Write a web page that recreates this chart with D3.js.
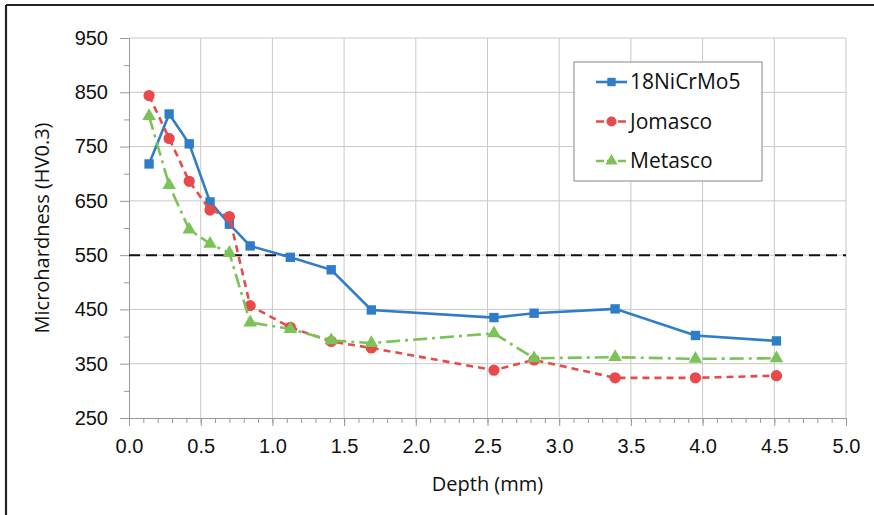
<!DOCTYPE html>
<html>
<head>
<meta charset="utf-8">
<script src="https://cdn.jsdelivr.net/npm/d3@7"></script>
<style>
  html, body { margin: 0; padding: 0; background: #fff; }
  svg { display: block; font-family: "Open Sans", "Noto Sans", sans-serif; }
</style>
</head>
<body>
<div id="chart"></div>
<script>
// depth positions (mm) shared by all three profiles
const depths = [0.14, 0.28, 0.42, 0.565, 0.70, 0.845, 1.125, 1.41, 1.69, 2.545, 2.825, 3.39, 3.95, 4.515];

const niCrMo = [718, 810, 755, 648, 607, 567, 546, 523, 449, 435, 443, 451, 402, 392];
const jomasco = [844, 765, 686, 633, 621, 457, 417, 391, 379, 338, 357, 324, 324, 328];
const metasco = [806, 679, 597, 571, 554, 426, 414, 393, 388, 406, 360, 362, 359, 360];

const seriesNames = ["18NiCrMo5", "Jomasco", "Metasco"];
const threshold = 550;

const xTicks = [0, 0.5, 1, 1.5, 2, 2.5, 3, 3.5, 4, 4.5, 5];
const yTicks = [250, 350, 450, 550, 650, 750, 850, 950];

const W = 874, H = 515;
const margin = { top: 38, right: 28, bottom: 97, left: 129 };
const width = 846 - margin.left;
const height = 418 - margin.top;

const svg = d3.select("#chart").append("svg")
  .attr("width", W)
  .attr("height", H);

// outer frame (only top and left edges show)
svg.append("line").attr("x1", 6).attr("x2", W).attr("y1", 5).attr("y2", 5)
  .attr("stroke", "#222").attr("stroke-width", 2.2);
svg.append("line").attr("x1", 6).attr("x2", 6).attr("y1", 5).attr("y2", H)
  .attr("stroke", "#222").attr("stroke-width", 2.2);

const g = svg.append("g").attr("transform", `translate(${margin.left},${margin.top})`);

const x = d3.scaleLinear().domain([0, 5]).range([0, width]);
const y = d3.scaleLinear().domain([250, 950]).range([height, 0]);

// gridlines
g.append("g").selectAll("line.vg")
  .data(xTicks.slice(1))
  .enter().append("line")
  .attr("x1", d => x(d)).attr("x2", d => x(d))
  .attr("y1", 0).attr("y2", height)
  .attr("stroke", "#c9c9c9").attr("stroke-width", 1);

g.append("g").selectAll("line.hg")
  .data(yTicks.slice(1))
  .enter().append("line")
  .attr("x1", 0).attr("x2", width)
  .attr("y1", d => y(d)).attr("y2", d => y(d))
  .attr("stroke", "#c9c9c9").attr("stroke-width", 1);

// axes
const tickColor = "#999";
const xMinor = d3.range(0, 5.001, 0.1);
g.append("g")
  .attr("transform", `translate(0,${height})`)
  .call(d3.axisBottom(x).tickValues(xMinor).tickSize(5).tickFormat(""))
  .call(a => a.select(".domain").remove())
  .call(a => a.selectAll("line").attr("stroke", tickColor));

const xAxis = g.append("g")
  .attr("transform", `translate(0,${height})`)
  .call(d3.axisBottom(x).tickValues(xTicks).tickSize(8).tickPadding(13).tickFormat(d3.format(".1f")));
xAxis.select(".domain").attr("stroke", tickColor);
xAxis.selectAll("line").attr("stroke", tickColor);
xAxis.selectAll("text").style("font-size", "20px").attr("fill", "#111");

const yMinor = d3.range(300, 951, 100);
g.append("g")
  .call(d3.axisLeft(y).tickValues(yMinor).tickSize(5).tickFormat(""))
  .call(a => a.select(".domain").remove())
  .call(a => a.selectAll("line").attr("stroke", tickColor));

const yAxis = g.append("g")
  .call(d3.axisLeft(y).tickValues(yTicks).tickSize(9).tickPadding(12));
yAxis.select(".domain").attr("stroke", tickColor);
yAxis.selectAll("line").attr("stroke", tickColor);
yAxis.selectAll("text").style("font-size", "20px").attr("fill", "#111");

// axis titles
svg.append("text")
  .attr("transform", `translate(42,${margin.top + height / 2}) rotate(-90)`)
  .attr("text-anchor", "middle")
  .attr("dy", "0.35em")
  .style("font-size", "20px")
  .attr("fill", "#111")
  .text("Microhardness (HV0.3)");

svg.append("text")
  .attr("x", margin.left + width / 2)
  .attr("y", 484)
  .attr("text-anchor", "middle")
  .attr("dy", "0.35em")
  .style("font-size", "20px")
  .attr("fill", "#111")
  .text("Depth (mm)");

// threshold line
g.append("line")
  .attr("x1", 0).attr("x2", width)
  .attr("y1", y(threshold)).attr("y2", y(threshold))
  .attr("stroke", "#111").attr("stroke-width", 2)
  .attr("stroke-dasharray", "11,6");

// series
const series = [
  { name: seriesNames[0], values: niCrMo, color: "#2f7dc8", dash: null, shape: d3.symbolSquare, size: 88 },
  { name: seriesNames[1], values: jomasco, color: "#e84a4c", dash: "7,5", shape: d3.symbolCircle, size: 100 },
  { name: seriesNames[2], values: metasco, color: "#7bc257", dash: "14,5,3,5", shape: d3.symbolTriangle, size: 80 }
];

const line = d3.line()
  .x(d => x(d[0]))
  .y(d => y(d[1]));

series.forEach(s => {
  const pts = depths.map((d, i) => [d, s.values[i]]);
  g.append("path")
    .datum(pts)
    .attr("d", line)
    .attr("fill", "none")
    .attr("stroke", s.color)
    .attr("stroke-width", 2.6)
    .attr("stroke-dasharray", s.dash);
  g.selectAll(null)
    .data(pts)
    .enter().append("path")
    .attr("transform", d => `translate(${x(d[0])},${y(d[1])})`)
    .attr("d", d3.symbol().type(s.shape).size(s.size))
    .attr("fill", s.color);
});

// legend
const legend = svg.append("g").attr("transform", "translate(574,62)");
legend.append("rect")
  .attr("width", 188).attr("height", 119)
  .attr("fill", "#fff").attr("stroke", "#9a9a9a").attr("stroke-width", 1.2);

series.forEach((s, i) => {
  const ly = 20 + i * 39.5;
  legend.append("line")
    .attr("x1", 22).attr("x2", 53)
    .attr("y1", ly).attr("y2", ly)
    .attr("stroke", s.color).attr("stroke-width", 2.6)
    .attr("stroke-dasharray", s.dash ? "8,3" : null);
  legend.append("path")
    .attr("transform", `translate(37.5,${ly})`)
    .attr("d", d3.symbol().type(s.shape).size(s.size * 0.8))
    .attr("fill", s.color);
  legend.append("text")
    .attr("x", 56).attr("y", ly)
    .attr("dy", "0.35em")
    .style("font-size", "21px")
    .attr("fill", "#111")
    .text(s.name);
});
</script>
</body>
</html>
